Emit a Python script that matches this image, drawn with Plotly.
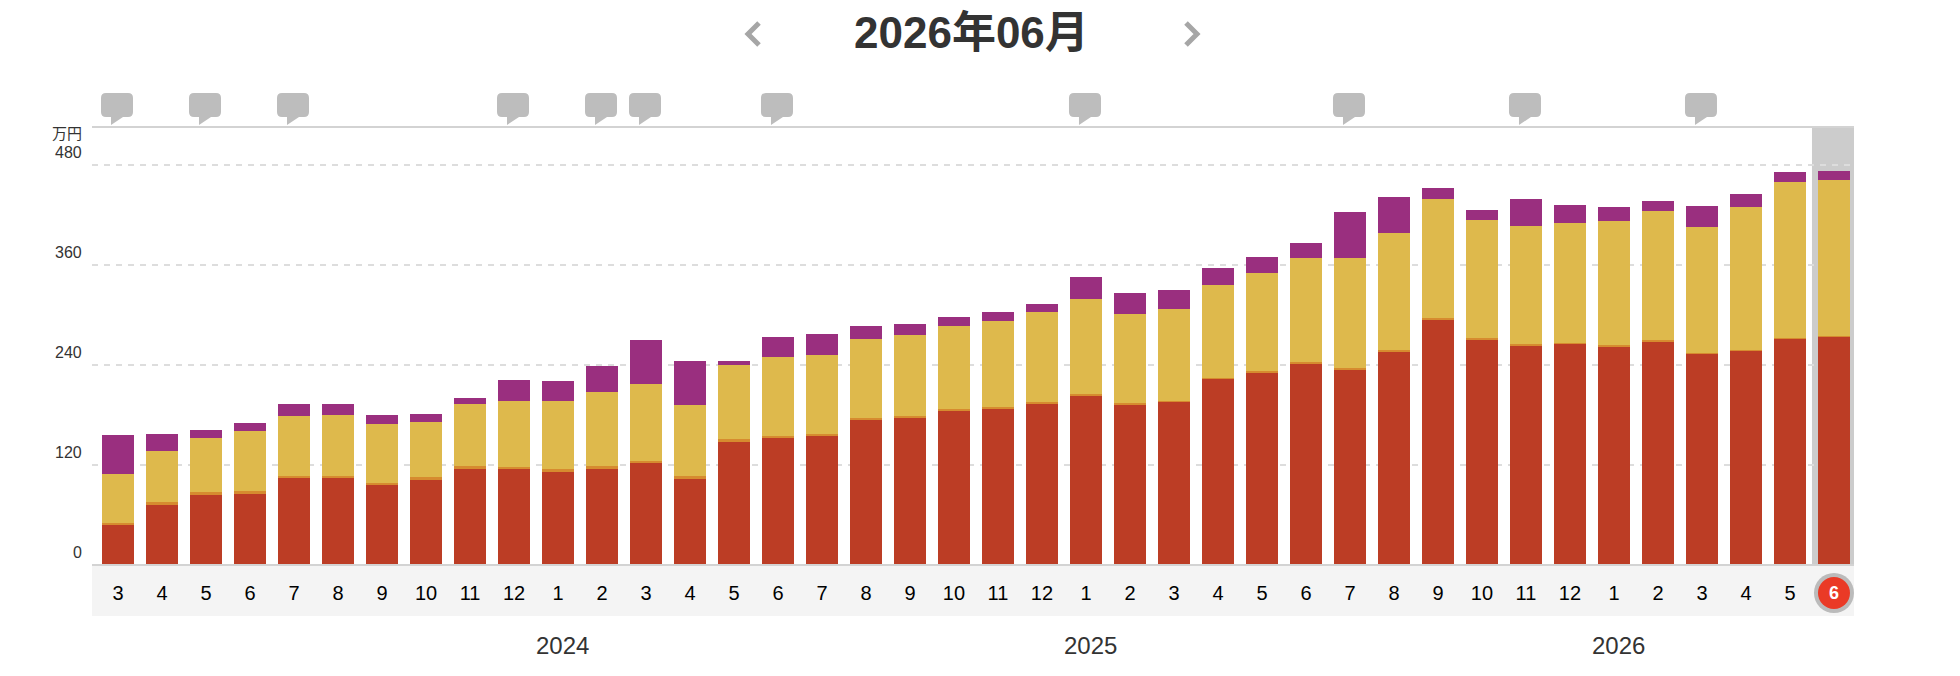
import plotly.graph_objects as go

# Monthly stacked amounts, 万円, from 2023-03 to 2026-06
months = [3, 4, 5, 6, 7, 8, 9, 10, 11, 12,
          1, 2, 3, 4, 5, 6, 7, 8, 9, 10, 11, 12,
          1, 2, 3, 4, 5, 6, 7, 8, 9, 10, 11, 12,
          1, 2, 3, 4, 5, 6]
base_amount = [48, 72, 84, 85.2, 104.4, 104.4, 96, 102, 115.2, 115.2,
               111.6, 115.2, 122.4, 103.2, 147.6, 152.4, 154.8, 174, 176.4, 184.8, 187.2, 193.2,
               202.8, 192, 195.6, 223.2, 230.4, 241.2, 234, 255.6, 294, 270, 262.8, 265.2,
               261.6, 267.6, 253.2, 256.8, 271.2, 273.6]
thin_amount = [2.4, 3.6, 3.6, 3.6, 2.4, 2.4, 2.4, 3.6, 3.6, 2.4,
               3.6, 3.6, 2.4, 3.6, 3.6, 2.4, 2.4, 2.4, 2.4, 2.4, 2.4, 2.4,
               2.4, 2.4, 1.2, 1.2, 2.4, 2.4, 2.4, 2.4, 2.4, 2.4, 2.4, 1.2,
               2.4, 2.4, 1.2, 1.2, 1.2, 1.2]
middle_amount = [58.8, 61.2, 64.8, 72, 72, 73.2, 70.8, 66, 74.4, 79.2,
                 81.6, 88.8, 92.4, 85.2, 88.8, 94.8, 94.8, 94.8, 97.2, 99.6, 103.2, 108,
                 114, 106.8, 110.4, 111.6, 117.6, 124.8, 132, 140.4, 142.8, 141.6, 141.6, 144,
                 148.8, 154.8, 151.2, 171.6, 187.2, 187.2]
top_amount = [46.8, 20.4, 9.6, 9.6, 14.4, 13.2, 10.8, 9.6, 7.2, 25.2,
              24, 31.2, 52.8, 52.8, 4.8, 24, 25.2, 15.6, 13.2, 10.8, 11, 9.4,
              26.4, 25.2, 22.8, 20.4, 19.2, 18, 55.2, 43.2, 13.2, 12, 32.4, 21.6,
              16.8, 12, 25.2, 15.6, 12, 10.8]

y_ticks = [0, 120, 240, 360, 480]
year_labels = [(10, "2024"), (22, "2025"), (34, "2026")]
comment_months = [0, 2, 4, 9, 11, 12, 15, 22, 28, 32, 36]
title_text = "2026年06月"

FONT = "Liberation Sans, Arial, Noto Sans CJK JP, sans-serif"
LINE = "#d3d3d3"
Y_MAX = 525.6
X_MIN, X_MAX = -0.591, 39.455
L, R, T, B = 92, 1854, 127, 565
W, H = 1960, 676

x_index = list(range(len(months)))


def px_x(px):
    return (px - L) / (R - L)


def px_y(py):
    return (B - py) / (B - T)


fig = go.Figure()
for name, values, color in [
    ("base", base_amount, "#bc3d25"),
    ("thin", thin_amount, "#d68b2f"),
    ("middle", middle_amount, "#deb94c"),
    ("top", top_amount, "#9a2f7f"),
]:
    fig.add_bar(x=x_index, y=values, name=name, marker=dict(color=color, line=dict(width=0)),
                hoverinfo="skip")

shapes = [
    # Strip behind the month labels
    dict(type="rect", xref="paper", yref="paper", x0=0, x1=1, y0=px_y(616), y1=0,
         fillcolor="#f4f4f4", line=dict(width=0), layer="below"),
    # Column marking the current month
    dict(type="rect", xref="x", yref="paper", x0=38.5, x1=X_MAX, y0=0, y1=1,
         fillcolor="#cccccc", line=dict(width=0), layer="below"),
    # Top border and baseline of the plot
    dict(type="line", xref="paper", yref="paper", x0=0, x1=1, y0=1, y1=1,
         line=dict(color=LINE, width=2), layer="above"),
    dict(type="line", xref="paper", yref="paper", x0=0, x1=1, y0=0, y1=0,
         line=dict(color=LINE, width=2), layer="above"),
    # Current-month badge
    dict(type="circle", xref="x", yref="paper", xsizemode="pixel", ysizemode="pixel",
         xanchor=39, yanchor=0, x0=-20, x1=20, y0=-48, y1=-8,
         fillcolor="#bbbbbb", line=dict(width=0), layer="above"),
    dict(type="circle", xref="x", yref="paper", xsizemode="pixel", ysizemode="pixel",
         xanchor=39, yanchor=0, x0=-16, x1=16, y0=-44, y1=-12,
         fillcolor="#ea3a26", line=dict(width=0), layer="above"),
]

# Month navigation chevrons either side of the title
for pts in ([(759, 23), (748, 34), (759, 45)], [(1186, 23), (1197, 34), (1186, 45)]):
    path = "M" + " L".join(f"{px_x(a):.5f},{px_y(b):.5f}" for a, b in pts)
    shapes.append(dict(type="path", xref="paper", yref="paper", path=path,
                       line=dict(color="#a6a6a6", width=5), layer="above"))

# Speech-bubble markers above months that carry a note
bubble = ("M-12,34 L10,34 Q15,34 15,29 L15,15 Q15,10 10,10 L5,10 L-7,2 L-7,10 L-12,10 "
          "Q-17,10 -17,15 L-17,29 Q-17,34 -12,34 Z")
for m in comment_months:
    shapes.append(dict(type="path", xref="x", yref="paper", xsizemode="pixel", ysizemode="pixel",
                       xanchor=m, yanchor=1, path=bubble,
                       fillcolor="#bdbdbd", line=dict(width=0), layer="above"))

annotations = [
    dict(text=title_text, xref="paper", yref="paper", x=px_x(971.5), y=px_y(33),
         xanchor="center", yanchor="middle",
         showarrow=False, font=dict(family=FONT, size=44, color="#333333", weight="bold")),
    dict(text="万円", xref="paper", yref="paper", x=px_x(84), y=px_y(133),
         xanchor="right", yanchor="middle",
         showarrow=False, font=dict(family=FONT, size=15, color="#333333")),
    dict(text=str(months[-1]), xref="x", yref="paper", x=39, y=0, yshift=-28, yanchor="middle",
         showarrow=False, font=dict(family=FONT, size=18, color="#ffffff", weight="bold")),
]
for v in y_ticks:
    annotations.append(dict(text=str(v), xref="paper", yref="y", x=px_x(84), y=v, yshift=13,
                            xanchor="right", yanchor="middle", showarrow=False,
                            font=dict(family=FONT, size=16, color="#333333")))
for m, label in year_labels:
    annotations.append(dict(text=label, xref="x", yref="paper", x=m + 0.11, y=0, yshift=-80,
                            xanchor="center", yanchor="middle",
                            showarrow=False, font=dict(family=FONT, size=24, color="#333333")))

fig.update_layout(
    width=W, height=H, autosize=False,
    margin=dict(l=L, r=W - R, t=T, b=H - B, pad=0),
    barmode="stack", bargap=1 - 32 / 44,
    paper_bgcolor="#ffffff", plot_bgcolor="#ffffff",
    showlegend=False, font=dict(family=FONT),
    shapes=shapes, annotations=annotations,
    xaxis=dict(range=[X_MIN, X_MAX], tickmode="array", tickvals=x_index[:-1],
               ticktext=[str(m) for m in months[:-1]],
               tickfont=dict(family=FONT, size=20, color="#000000"),
               ticks="outside", ticklen=9, tickcolor="rgba(0,0,0,0)",
               showgrid=False, zeroline=False, showline=True,
               linecolor="rgba(0,0,0,0)", linewidth=2),
    yaxis=dict(range=[0, Y_MAX], tickmode="array", tickvals=y_ticks, showticklabels=False,
               ticks="", showgrid=True, gridcolor="#dddddd", gridwidth=2,
               griddash="6px,6px", zeroline=False, showline=False),
)

fig.write_html("out.html", config=dict(displayModeBar=False))
